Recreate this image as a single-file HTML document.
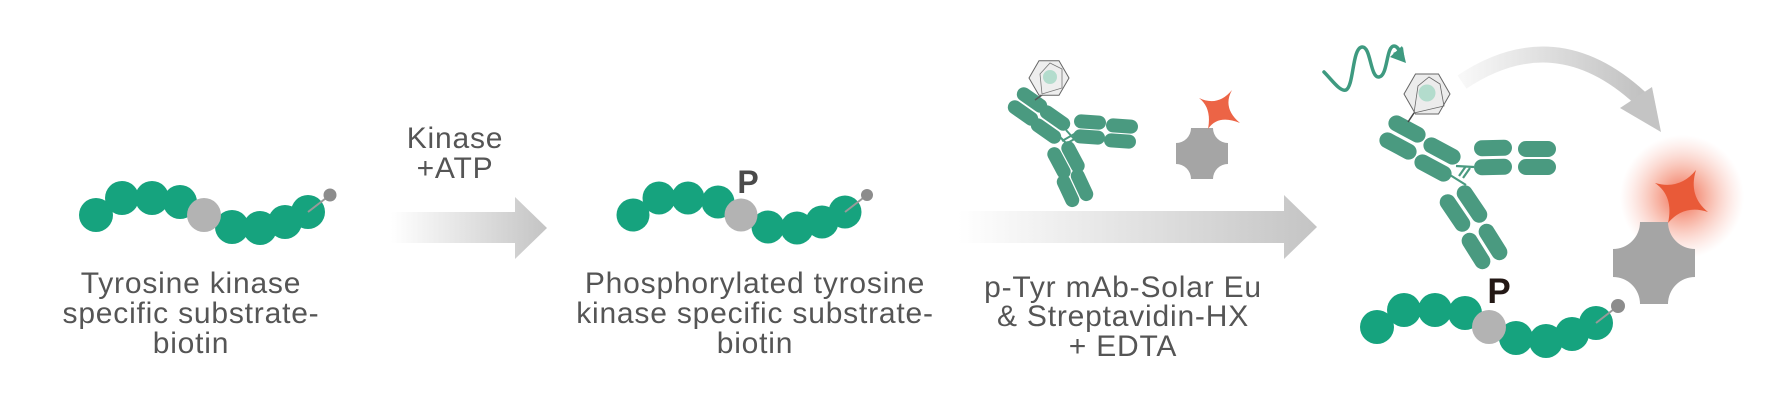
<!DOCTYPE html>
<html><head><meta charset="utf-8"><style>
html,body{margin:0;padding:0;background:#fff;}
svg{display:block;}
text{font-family:"Liberation Sans",sans-serif;fill:#555;font-size:30px;letter-spacing:0.8px;text-anchor:middle;}
</style></head><body>
<svg width="1777" height="401" viewBox="0 0 1777 401" xmlns="http://www.w3.org/2000/svg">
<defs>
<linearGradient id="ga" x1="0" x2="1" y1="0" y2="0">
<stop offset="0" stop-color="#fff"/><stop offset="1" stop-color="#c4c4c4"/></linearGradient>
<linearGradient id="gc" x1="0" x2="1" y1="0" y2="0">
<stop offset="0" stop-color="#f8f8f8"/><stop offset="1" stop-color="#c2c2c2"/></linearGradient>
<radialGradient id="glow"><stop offset="0" stop-color="#ee4a2a" stop-opacity="0.85"/><stop offset="0.45" stop-color="#f06a4a" stop-opacity="0.45"/><stop offset="1" stop-color="#f8a090" stop-opacity="0"/></radialGradient>
</defs>

<!-- chain 1 -->
<g fill="#16a37e">
<circle cx="96" cy="215" r="17"/><circle cx="122" cy="198" r="17"/><circle cx="152" cy="198" r="17"/><circle cx="180" cy="202" r="17"/>
<circle cx="308" cy="212" r="17"/><circle cx="285" cy="222" r="17"/><circle cx="260" cy="228" r="17"/><circle cx="232" cy="227" r="17"/>
</g>
<line x1="308" y1="212" x2="330" y2="195" stroke="#999" stroke-width="2"/>
<circle cx="204" cy="215" r="17" fill="#b3b3b3"/>
<circle cx="330" cy="195" r="6.5" fill="#8c8c8c"/>
<text x="191" y="293">Tyrosine kinase</text>
<text x="191" y="323">specific substrate-</text>
<text x="191" y="353">biotin</text>

<!-- arrow 1 -->
<text x="455" y="148">Kinase</text>
<text x="455" y="178">+ATP</text>
<polygon points="391,212 515,212 515,197 547,228 515,259 515,243 391,243" fill="url(#ga)"/>

<!-- chain 2 -->
<g fill="#16a37e">
<circle cx="633" cy="215" r="16.5"/><circle cx="659" cy="198" r="16.5"/><circle cx="688" cy="198" r="16.5"/><circle cx="718" cy="202" r="16.5"/>
<circle cx="845" cy="212" r="16.5"/><circle cx="822" cy="222" r="16.5"/><circle cx="797" cy="228" r="16.5"/><circle cx="768" cy="227" r="16.5"/>
</g>
<line x1="845" y1="212" x2="867" y2="195" stroke="#999" stroke-width="2"/>
<circle cx="741" cy="215" r="16.5" fill="#b3b3b3"/>
<circle cx="867" cy="195" r="6" fill="#8c8c8c"/>
<text x="748" y="193" style="font-weight:bold;font-size:32px;fill:#4a4a4a;letter-spacing:0">P</text>
<text x="755" y="293">Phosphorylated tyrosine</text>
<text x="755" y="323">kinase specific substrate-</text>
<text x="755" y="353">biotin</text>

<!-- arrow 2 -->
<polygon points="958,211 1284,211 1284,195 1317,227 1284,259 1284,243 958,243" fill="url(#ga)"/>
<text x="1123" y="297">p-Tyr mAb-Solar Eu</text>
<text x="1123" y="326">&amp; Streptavidin-HX</text>
<text x="1123" y="356">+ EDTA</text>

<!-- antibody 2 -->
<g fill="#4a9a80">
<rect x="-17" y="-7" width="34" height="14" rx="7" transform="translate(1032,100) rotate(35)"/>
<rect x="-17" y="-7" width="34" height="14" rx="7" transform="translate(1023,113) rotate(35)"/>
<rect x="-17" y="-7" width="34" height="14" rx="7" transform="translate(1055,118) rotate(35)"/>
<rect x="-17" y="-7" width="34" height="14" rx="7" transform="translate(1046,131) rotate(35)"/>
<rect x="-16" y="-7" width="32" height="14" rx="7" transform="translate(1090,122) rotate(4)"/>
<rect x="-16" y="-7" width="32" height="14" rx="7" transform="translate(1089,137) rotate(4)"/>
<rect x="-16" y="-7" width="32" height="14" rx="7" transform="translate(1122,126) rotate(4)"/>
<rect x="-16" y="-7" width="32" height="14" rx="7" transform="translate(1120,141) rotate(4)"/>
<rect x="-17" y="-7" width="34" height="14" rx="7" transform="translate(1059,163) rotate(62)"/>
<rect x="-17" y="-7" width="34" height="14" rx="7" transform="translate(1073,157) rotate(62)"/>
<rect x="-17" y="-7" width="34" height="14" rx="7" transform="translate(1068,191) rotate(65)"/>
<rect x="-17" y="-7" width="34" height="14" rx="7" transform="translate(1082,185) rotate(65)"/>
</g>
<g stroke="#4a9a80" stroke-width="2">
<line x1="1058" y1="135" x2="1068" y2="145"/><line x1="1066" y1="130" x2="1075" y2="140"/>
<line x1="1062" y1="141" x2="1076" y2="133"/><line x1="1064" y1="145" x2="1078" y2="137"/>
</g>
<line x1="1042" y1="95" x2="1035" y2="100" stroke="#555" stroke-width="1.5"/>
<polygon points="1069,78 1059,95.3 1039,95.3 1029,78 1039,60.7 1059,60.7" fill="#eee" stroke="#666" stroke-width="1"/>
<polyline points="1042,94 1040,74 1050,63 1062,69 1062,88 1042,94" fill="none" stroke="#777" stroke-width="0.8"/>
<circle cx="1050" cy="77" r="7" fill="#b3dccd"/>

<!-- streptavidin + star small -->
<path d="M1191,128 L1213,128 A15,15 0 0 0 1228,143 L1228,164 A15,15 0 0 0 1213,179 L1191,179 A15,15 0 0 0 1176,164 L1176,143 A15,15 0 0 0 1191,128 Z" fill="#a5a5a5"/>
<path d="M1232,90 Q1222,108 1240,123 Q1218,114 1208,129 Q1212,108 1199,98 Q1218,107 1232,90 Z" fill="#ec6446"/>

<!-- wavy line -->
<path d="M1324,72 C1332,80 1340,92 1346,90 C1354,86 1352,48 1362,47 C1371,46 1370,78 1379,77 C1388,76 1386,46 1394,46 C1398,46 1400,52 1402,56" fill="none" stroke="#3e9a80" stroke-width="3.5" stroke-linecap="round"/>
<polygon points="1405,62 1393,53 1400,50 1403,47" fill="#3e9a80"/>
<polygon points="1406,63 1390,57 1402,46" fill="#3e9a80"/>

<!-- curved arrow -->
<path d="M1462,82 Q1555,20 1640,98" fill="none" stroke="url(#gc)" stroke-width="16"/>
<polygon points="1652,87 1661,132 1620,108" fill="#c4c4c4"/>

<!-- antibody 3 -->
<g fill="#4a9a80">
<rect x="-20" y="-8" width="40" height="16" rx="8" transform="translate(1407,129) rotate(28)"/>
<rect x="-20" y="-8" width="40" height="16" rx="8" transform="translate(1398,146) rotate(28)"/>
<rect x="-20" y="-8" width="40" height="16" rx="8" transform="translate(1442,151) rotate(28)"/>
<rect x="-20" y="-8" width="40" height="16" rx="8" transform="translate(1433,168) rotate(28)"/>
<rect x="-19" y="-8" width="38" height="16" rx="8" transform="translate(1493,148) rotate(-1)"/>
<rect x="-19" y="-8" width="38" height="16" rx="8" transform="translate(1493,167) rotate(-1)"/>
<rect x="-19" y="-8" width="38" height="16" rx="8" transform="translate(1537,149) rotate(0)"/>
<rect x="-19" y="-8" width="38" height="16" rx="8" transform="translate(1537,167) rotate(0)"/>
<rect x="-21" y="-8" width="42" height="16" rx="8" transform="translate(1455,213) rotate(56)"/>
<rect x="-21" y="-8" width="42" height="16" rx="8" transform="translate(1472,204) rotate(56)"/>
<rect x="-20" y="-8" width="40" height="16" rx="8" transform="translate(1476,251) rotate(58)"/>
<rect x="-20" y="-8" width="40" height="16" rx="8" transform="translate(1493,242) rotate(58)"/>
</g>
<g stroke="#4a9a80" stroke-width="2.2">
<line x1="1450" y1="175" x2="1466" y2="185"/><line x1="1456" y1="166" x2="1474" y2="167"/>
<line x1="1459" y1="176" x2="1466" y2="166"/><line x1="1463" y1="178" x2="1470" y2="168"/>
</g>
<line x1="1414" y1="113" x2="1408" y2="122" stroke="#444" stroke-width="1.5"/>
<polygon points="1450,94 1438.5,114 1415.5,114 1404,94 1415.5,74 1438.5,74" fill="#ececec" stroke="#666" stroke-width="1"/>
<polyline points="1414,113 1418,86 1429,77 1440,84 1444,106 1414,113" fill="none" stroke="#666" stroke-width="0.8"/>
<circle cx="1427" cy="93" r="8.5" fill="#b3dccd"/>

<!-- glow + star + streptavidin big -->
<circle cx="1682" cy="197" r="62" fill="url(#glow)"/>
<path d="M1640,222 L1668,222 A27,27 0 0 0 1695,249 L1695,277 A27,27 0 0 0 1668,304 L1640,304 A27,27 0 0 0 1613,277 L1613,249 A27,27 0 0 0 1640,222 Z" fill="#a5a5a5"/>
<path d="M1696,170 Q1688,196 1708,212 Q1684,204 1668,223 Q1674,196 1655,183 Q1680,190 1696,170 Z" fill="#e95a38"/>

<!-- chain 3 -->
<g fill="#16a37e">
<circle cx="1377" cy="327" r="17"/><circle cx="1404" cy="310" r="17"/><circle cx="1435" cy="310" r="17"/><circle cx="1465" cy="313" r="17"/>
<circle cx="1596" cy="323" r="17"/><circle cx="1572" cy="334" r="17"/><circle cx="1546" cy="341" r="17"/><circle cx="1516" cy="338" r="17"/>
</g>
<line x1="1596" y1="323" x2="1618" y2="306" stroke="#999" stroke-width="2"/>
<circle cx="1489" cy="327" r="17" fill="#b3b3b3"/>
<circle cx="1618" cy="306" r="7" fill="#8c8c8c"/>
<text x="1499" y="303" style="font-weight:bold;font-size:35px;fill:#231815;letter-spacing:0">P</text>
</svg>
</body></html>
